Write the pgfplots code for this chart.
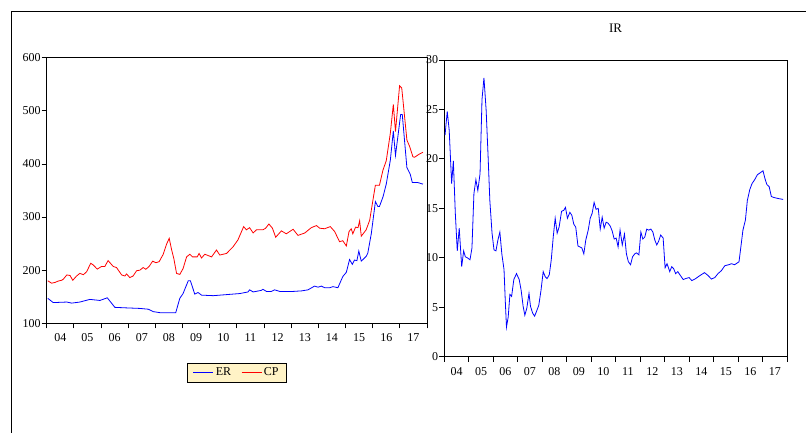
\documentclass[border=0pt]{standalone}
\usepackage{fontspec}
\setmainfont{Liberation Serif}
\usepackage{pgfplots}
\pgfplotsset{compat=1.18}
\definecolor{legyellow}{RGB}{255,243,198}

\begin{document}
\begin{tikzpicture}
\useasboundingbox (0pt,0pt) rectangle (806pt,433pt);
\draw[line width=0.9pt] (11pt,-2pt) -- (11pt,422pt) -- (808pt,422pt);
\pgfplotsset{common/.style={
  scale only axis,
  axis line style={line width=0.9pt},
  tick align=outside,
  xtick pos=bottom, ytick pos=left,
  xmin=2004, xmax=2018,
  xtick={2004,2005,...,2018},
  x tick label as interval,
  xticklabels={04,05,06,07,08,09,10,11,12,13,14,15,16,17},
  minor x tick num=3,
  major tick length=5pt, minor tick length=3pt,
  tick style={black, line width=0.8pt},
  ticklabel style={font=\fontsize{12}{12}\selectfont},
  xticklabel style={yshift=-2pt},
  yticklabel style={inner sep=1pt},
  /pgf/number format/assume math mode=true,
}}
\begin{axis}[common,
  at={(46.7pt,109.7pt)}, anchor=south west,
  width=380.3pt, height=265.6pt,
  ymin=100, ymax=600, ytick={100,200,...,600},
  legend style={at={(0.5,-0.148)}, anchor=north, legend columns=2,
    fill=legyellow, inner xsep=6pt, inner ysep=3pt,
    font=\fontsize{12}{12}\selectfont,
    /tikz/every even column/.append style={column sep=8pt}},
  legend image code/.code={\draw[#1, line width=0.8pt] (0pt,0pt) -- (20pt,0pt);},
]
\addplot[color=blue, line width=0.8pt, mark=none] coordinates {
(2004.04,147) (2004.24,139) (2004.74,140) (2004.92,138) (2005.22,140) (2005.59,145)
(2005.96,143) (2006.23,148) (2006.51,130) (2006.94,129) (2007.43,128) (2007.74,126.5)
(2007.92,122) (2008.17,120) (2008.75,120) (2008.90,147) (2009.02,156) (2009.21,180)
(2009.29,180) (2009.45,155) (2009.57,158) (2009.70,153) (2010.13,152) (2010.62,154)
(2011.11,156) (2011.41,159) (2011.47,163) (2011.60,159) (2011.90,162) (2011.96,164)
(2012.09,160) (2012.27,160) (2012.39,163) (2012.58,160) (2013.07,160) (2013.38,161)
(2013.62,163) (2013.86,170) (2013.99,168) (2014.11,170) (2014.23,167) (2014.42,167)
(2014.54,169) (2014.72,167) (2014.90,188) (2015.03,196) (2015.15,220) (2015.25,211)
(2015.33,219) (2015.42,218) (2015.49,236) (2015.58,217) (2015.76,226) (2015.82,232)
(2015.95,269) (2016.10,329) (2016.19,320) (2016.25,320) (2016.38,338) (2016.50,362)
(2016.65,407) (2016.76,462) (2016.84,416) (2017.03,493) (2017.09,493) (2017.26,393)
(2017.38,381) (2017.46,365) (2017.66,365) (2017.85,362)
};
\addlegendentry{ER}
\addplot[color=red, line width=0.8pt, mark=none] coordinates {
(2004.04,180) (2004.18,175.5) (2004.31,177) (2004.43,179.6) (2004.55,181) (2004.61,183)
(2004.74,191) (2004.86,190) (2004.96,181) (2005.10,189) (2005.22,194) (2005.35,191.5)
(2005.47,197) (2005.62,213) (2005.71,210) (2005.86,202) (2006.02,207) (2006.14,207)
(2006.26,218) (2006.45,207) (2006.57,205) (2006.76,191) (2006.88,189) (2006.94,193)
(2007.06,186) (2007.18,189) (2007.31,199) (2007.43,200) (2007.55,205) (2007.65,201.7)
(2007.77,207) (2007.90,217) (2008.02,214) (2008.14,216) (2008.29,230) (2008.41,248.7)
(2008.51,260) (2008.60,238) (2008.68,222) (2008.78,194) (2008.90,192) (2009.02,203)
(2009.15,225) (2009.27,230) (2009.37,225) (2009.54,225) (2009.61,231.5) (2009.70,223)
(2009.82,230) (2010.07,225) (2010.25,238) (2010.37,228.5) (2010.62,231.5) (2010.86,244)
(2011.04,257) (2011.25,282) (2011.35,276) (2011.47,280) (2011.60,270) (2011.72,276)
(2011.96,276) (2012.06,279) (2012.18,287) (2012.31,279) (2012.43,262) (2012.64,274)
(2012.82,268.5) (2013.07,277) (2013.25,265.5) (2013.50,270) (2013.74,280) (2013.93,284)
(2014.05,279) (2014.23,278) (2014.44,282) (2014.60,272.8) (2014.78,253.6) (2014.90,255.5)
(2015.03,245.5) (2015.13,272.8) (2015.21,278) (2015.27,268.5) (2015.37,281) (2015.46,280)
(2015.52,293) (2015.58,264) (2015.76,276) (2015.89,294) (2016.01,332) (2016.10,360)
(2016.25,360) (2016.38,388.6) (2016.50,406) (2016.65,457.7) (2016.76,512) (2016.84,460.7)
(2016.99,547) (2017.07,543) (2017.26,445) (2017.36,433) (2017.48,413.6) (2017.54,412.5)
(2017.72,418.7) (2017.85,422)
};
\addlegendentry{CP}
\end{axis}
\begin{axis}[common,
  at={(444.3pt,76.3pt)}, anchor=south west,
  width=342.7pt, height=296.7pt,
  ymin=0, ymax=30, ytick={0,5,...,30},
  title={IR}, title style={font=\fontsize{13}{13}\selectfont, yshift=18pt},
]
\addplot[color=blue, line width=0.8pt, mark=none] coordinates {
(2004.03,22.4) (2004.12,24.8) (2004.20,22.9) (2004.30,17.5) (2004.37,19.8) (2004.45,14.5)
(2004.53,10.7) (2004.61,13.0) (2004.71,9.1) (2004.79,10.7) (2004.86,10.1) (2004.94,10.0)
(2005.05,9.8) (2005.13,11.0) (2005.21,16.5) (2005.29,17.9) (2005.37,16.8) (2005.46,18.5)
(2005.54,26.0) (2005.62,28.2) (2005.71,24.9) (2005.79,20.2) (2005.86,15.8) (2005.95,12.5)
(2006.03,10.8) (2006.11,10.7) (2006.19,11.8) (2006.27,12.6) (2006.35,10.4) (2006.44,8.8)
(2006.49,5.7) (2006.54,3.0) (2006.61,4.0) (2006.68,6.3) (2006.75,6.1) (2006.84,7.8)
(2006.95,8.4) (2007.06,7.8) (2007.14,6.7) (2007.22,5.1) (2007.29,4.2) (2007.37,4.9)
(2007.46,6.4) (2007.52,5.1) (2007.61,4.4) (2007.69,4.1) (2007.77,4.6) (2007.86,5.2)
(2007.95,6.7) (2008.04,8.6) (2008.12,8.1) (2008.20,7.9) (2008.29,8.3) (2008.37,9.8)
(2008.45,12.1) (2008.53,14.0) (2008.61,12.5) (2008.69,13.1) (2008.79,14.7) (2008.88,14.8)
(2008.95,15.1) (2009.03,14.0) (2009.13,14.6) (2009.21,14.3) (2009.29,13.4) (2009.37,13.1)
(2009.46,11.2) (2009.54,11.1) (2009.62,11.0) (2009.70,10.4) (2009.78,11.8) (2009.88,12.8)
(2009.96,14.0) (2010.04,14.5) (2010.12,15.6) (2010.20,14.9) (2010.29,15.0) (2010.37,12.9)
(2010.45,14.1) (2010.53,13.0) (2010.61,13.6) (2010.69,13.5) (2010.78,13.2) (2010.86,12.7)
(2010.94,11.9) (2011.02,12.0) (2011.10,11.1) (2011.18,12.8) (2011.27,11.3) (2011.36,12.4)
(2011.44,10.4) (2011.52,9.6) (2011.61,9.3) (2011.69,10.1) (2011.78,10.4) (2011.85,10.5)
(2011.95,10.3) (2012.03,12.6) (2012.11,11.9) (2012.19,12.1) (2012.27,12.9) (2012.35,12.8)
(2012.44,12.9) (2012.52,12.6) (2012.60,11.8) (2012.68,11.3) (2012.76,11.7) (2012.84,12.3)
(2012.94,12.0) (2013.02,9.0) (2013.10,9.4) (2013.21,8.6) (2013.29,9.1) (2013.37,8.9)
(2013.45,8.4) (2013.54,8.6) (2013.62,8.3) (2013.76,7.8) (2013.86,7.9) (2014.00,8.0)
(2014.11,7.7) (2014.24,7.85) (2014.44,8.2) (2014.63,8.5) (2014.78,8.2) (2014.91,7.85)
(2015.05,8.0) (2015.18,8.4) (2015.32,8.7) (2015.46,9.2) (2015.62,9.3) (2015.73,9.4)
(2015.86,9.3) (2016.04,9.6) (2016.11,11.0) (2016.20,12.8) (2016.30,13.8) (2016.38,15.8)
(2016.48,16.9) (2016.57,17.5) (2016.68,17.9) (2016.79,18.4) (2016.91,18.6) (2017.02,18.8)
(2017.10,18.0) (2017.18,17.4) (2017.27,17.2) (2017.36,16.2) (2017.46,16.1) (2017.63,16.0)
(2017.84,15.9)
};
\end{axis}
\end{tikzpicture}
\end{document}
